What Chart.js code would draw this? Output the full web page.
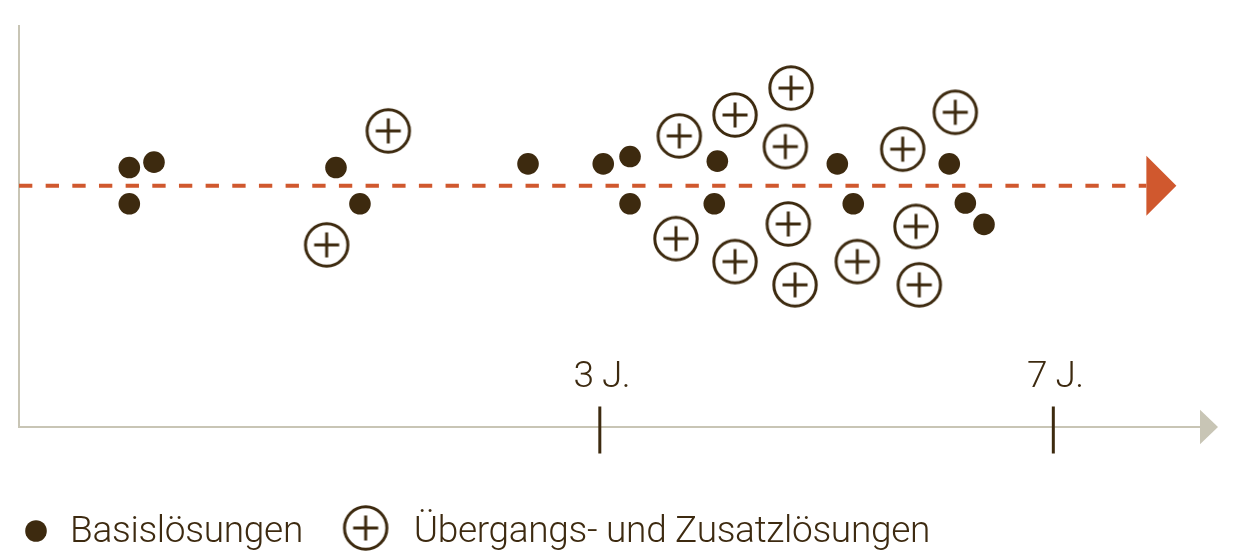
<!DOCTYPE html>
<html>
<head>
<meta charset="utf-8">
<script src="https://cdn.jsdelivr.net/npm/chart.js@4.4.1/dist/chart.umd.min.js"></script>
<style>
  html, body { margin: 0; padding: 0; background: #ffffff; }
  #wrap { width: 1241px; height: 554px; position: relative; }
  canvas { display: block; }
</style>
</head>
<body>
<div id="wrap"><canvas id="c" width="1241" height="554"></canvas></div>
<script>
// ---------- DATA ----------
const seriesNames = ['Basislösungen', 'Übergangs- und Zusatzlösungen'];

// x: relative time position (0 = origin, 100 = end of axis), y: offset from the trend line
const basisX = [9.34, 11.43, 9.34, 26.84, 28.87, 43.10, 49.47, 51.74, 51.74, 59.13, 58.87, 69.29, 70.64, 78.77, 80.13, 81.71];
const basisY = [4.54, 5.88, -4.47, 4.54, -4.47, 5.46, 5.46, 7.27, -4.47, 6.13, -4.47, 5.46, -4.47, 5.46, -4.29, -9.60];

const zusatzX = [31.27, 26.05, 55.91, 60.63, 65.37, 64.89, 74.83, 79.28, 55.63, 60.63, 65.14, 65.71, 70.98, 75.95, 76.23];
const zusatzY = [13.65, -14.71, 12.41, 17.62, 24.32, 9.75, 9.11, 18.29, -13.15, -18.86, -9.50, -24.64, -18.86, -10.10, -24.64];

const tickValues = [49.18, 87.58];
const tickLabels = ['3 J.', '7 J.'];

// ---------- STYLE ----------
const DARK = '#3d2a0f';
const TEXT = '#3d2a10';
const ORANGE = '#d0582e';
const AXIS = '#c8c5b5';
const FONT = '300 37px Roboto, "Liberation Sans", sans-serif';

function makePlusIcon(r) {
  const size = Math.ceil(r * 2 + 5);
  const cv = document.createElement('canvas');
  cv.width = size; cv.height = size;
  const g = cv.getContext('2d');
  const c = size / 2;
  g.fillStyle = '#ffffff';
  g.beginPath(); g.arc(c, c, r, 0, Math.PI * 2); g.fill();
  g.lineWidth = 3; g.strokeStyle = DARK; g.stroke();
  g.beginPath();
  g.moveTo(c - 12.5, c); g.lineTo(c + 12.5, c);
  g.moveTo(c, c - 12.5); g.lineTo(c, c + 12.5);
  g.lineWidth = 3; g.stroke();
  return cv;
}
const plusIcon = makePlusIcon(21.2);

const basisData = basisX.map((v, i) => ({ x: v, y: basisY[i] }));
const zusatzData = zusatzX.map((v, i) => ({ x: v, y: zusatzY[i] }));

const decor = {
  id: 'decor',
  beforeDatasetsDraw(chart) {
    const { ctx, chartArea: a, scales: { x, y } } = chart;
    ctx.save();
    const x0 = x.getPixelForValue(0);
    const xEnd = x.getPixelForValue(100);
    const yb = a.bottom;

    // axes
    ctx.strokeStyle = AXIS;
    ctx.lineWidth = 2;
    ctx.beginPath();
    ctx.moveTo(x0, a.top);
    ctx.lineTo(x0, yb);
    ctx.lineTo(xEnd, yb);
    ctx.stroke();
    ctx.fillStyle = AXIS;
    ctx.beginPath();
    ctx.moveTo(xEnd, yb - 17.3);
    ctx.lineTo(xEnd + 18, yb);
    ctx.lineTo(xEnd, yb + 17.3);
    ctx.closePath();
    ctx.fill();

    // ticks and tick labels
    ctx.strokeStyle = DARK;
    ctx.lineWidth = 3;
    ctx.font = FONT;
    ctx.fillStyle = TEXT;
    ctx.textAlign = 'center';
    ctx.textBaseline = 'alphabetic';
    try { ctx.letterSpacing = '-0.5px'; } catch (e) {}
    tickValues.forEach((v, i) => {
      const px = x.getPixelForValue(v);
      ctx.beginPath();
      ctx.moveTo(px, yb - 20.5);
      ctx.lineTo(px, yb + 26.5);
      ctx.stroke();
      ctx.fillText(tickLabels[i], px + 2, yb - 40);
    });

    // dashed trend line with arrow head
    const y0 = y.getPixelForValue(0);
    const tip = x.getPixelForValue(98);
    const base = tip - 30;
    ctx.strokeStyle = ORANGE;
    ctx.lineWidth = 4;
    ctx.setLineDash([13.33, 13.33]);
    ctx.beginPath();
    ctx.moveTo(x0, y0);
    ctx.lineTo(base, y0);
    ctx.stroke();
    ctx.setLineDash([]);
    ctx.fillStyle = ORANGE;
    ctx.beginPath();
    ctx.moveTo(base, y0 - 30);
    ctx.lineTo(tip, y0);
    ctx.lineTo(base, y0 + 30);
    ctx.closePath();
    ctx.fill();
    ctx.restore();
  },
  afterDraw(chart) {
    const { ctx } = chart;
    ctx.save();
    ctx.font = FONT;
    ctx.fillStyle = TEXT;
    ctx.textAlign = 'left';
    ctx.textBaseline = 'alphabetic';
    try { ctx.letterSpacing = '-0.3px'; } catch (e) {}
    const baseY = 542;
    // item 1: dot
    ctx.fillStyle = DARK;
    ctx.beginPath();
    ctx.arc(36, 531, 10.8, 0, Math.PI * 2);
    ctx.fill();
    ctx.fillStyle = TEXT;
    const t1x = 70;
    ctx.fillText(seriesNames[0], t1x, baseY);
    const w1 = ctx.measureText(seriesNames[0]).width;
    // item 2: plus circle
    const cx2 = t1x + w1 + 41 + 21.7;
    ctx.drawImage(plusIcon, cx2 - plusIcon.width / 2, 528 - plusIcon.height / 2);
    ctx.fillText(seriesNames[1], cx2 + 48, baseY);
    ctx.restore();
  }
};

new Chart(document.getElementById('c'), {
  type: 'scatter',
  data: {
    datasets: [
      {
        label: seriesNames[0],
        data: basisData,
        pointStyle: 'circle',
        pointRadius: 10.8,
        pointHoverRadius: 10.8,
        backgroundColor: DARK,
        borderWidth: 0,
        clip: false
      },
      {
        label: seriesNames[1],
        data: zusatzData,
        pointStyle: plusIcon,
        pointRadius: 22,
        pointHoverRadius: 22,
        backgroundColor: '#ffffff',
        borderColor: DARK,
        clip: false
      }
    ]
  },
  options: {
    responsive: false,
    animation: false,
    events: [],
    layout: { autoPadding: false, padding: { left: 19, right: 41, top: 25, bottom: 127 } },
    scales: {
      x: { type: 'linear', min: 0, max: 100, display: false },
      y: { type: 'linear', min: -60, max: 40, display: false }
    },
    plugins: {
      legend: { display: false },
      tooltip: { enabled: false }
    }
  },
  plugins: [decor]
});
</script>
</body>
</html>
